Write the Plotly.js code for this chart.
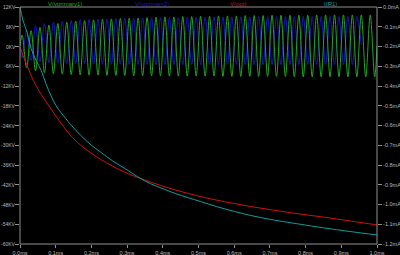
<!DOCTYPE html>
<html><head><meta charset="utf-8">
<script src="https://cdn.plot.ly/plotly-3.0.1.min.js"></script>
<style>html,body{margin:0;padding:0;background:#000;}#c{width:400px;height:255px;}</style>
</head><body><div id="c"></div>
<script>
// time of oscillation extremes (ms)
const tOsc = [0,0.006,0.0185,0.031,0.0435,0.056,0.0685,0.081,0.0935,0.106,0.1185,0.131,0.1435,0.156,0.1685,0.181,0.1935,0.206,0.2185,0.231,0.2435,0.256,0.2685,0.281,0.2935,0.306,0.3185,0.331,0.3435,0.356,0.3685,0.381,0.3935,0.406,0.4185,0.431,0.4435,0.456,0.4685,0.481,0.4935,0.506,0.5185,0.531,0.5435,0.556,0.5685,0.581,0.5935,0.606,0.6185,0.631,0.6435,0.656,0.6685,0.681,0.6935,0.706,0.7185,0.731,0.7435,0.756,0.7685,0.781,0.7935,0.806,0.8185,0.831,0.8435,0.856,0.8685,0.881,0.8935,0.906,0.9185,0.931,0.9435,0.956,0.9685,0.981,0.9935,1.0];
// V(vprimary1) in KV
const vPrim1 = [0,3.5,-6.5,4.8,-7.4,5.8,-7.9,6.5,-8.2,7.0,-8.4,7.4,-8.5,7.7,-8.6,7.9,-8.7,8.1,-8.7,8.3,-8.8,8.4,-8.8,8.5,-8.8,8.6,-8.9,8.7,-8.9,8.8,-8.9,8.9,-8.9,9.0,-9.0,9.0,-9.0,9.1,-9.0,9.1,-9.0,9.2,-9.0,9.2,-9.0,9.3,-9.1,9.3,-9.1,9.3,-9.1,9.4,-9.1,9.4,-9.1,9.4,-9.1,9.5,-9.1,9.5,-9.1,9.5,-9.2,9.5,-9.2,9.5,-9.2,9.6,-9.2,9.6,-9.2,9.6,-9.2,9.6,-9.2,9.6,-9.2,9.6,-9.2,9.6,-9.2,0.2];
// V(vprimary2) in KV
const vPrim2 = [0,-3.5,5.0,-4.2,6.3,-4.6,7.0,-4.9,7.4,-5.1,7.7,-5.2,7.9,-5.3,8.1,-5.3,8.2,-5.4,8.3,-5.4,8.4,-5.4,8.5,-5.4,8.6,-5.5,8.6,-5.5,8.7,-5.5,8.7,-5.5,8.8,-5.5,8.8,-5.5,8.8,-5.5,8.9,-5.5,8.9,-5.5,8.9,-5.5,9.0,-5.5,9.0,-5.5,9.0,-5.5,9.0,-5.5,9.0,-5.5,9.1,-5.5,9.1,-5.5,9.1,-5.5,9.1,-5.5,9.1,-5.5,9.1,-5.5,9.1,-5.5,9.1,-5.5,9.1,-5.5,9.1,-5.5,9.1,-5.5,9.1,0.5];
// V(out) in KV
const tOut = [0,0.008,0.025,0.036,0.059,0.087,0.115,0.14,0.17,0.226,0.296,0.366,0.436,0.506,0.575,0.645,0.715,0.785,0.855,0.925,1.0];
const vOut = [0,-2.6,-7.1,-10.0,-14.5,-19.0,-23.3,-26.8,-30.0,-34.3,-38.3,-41.2,-43.6,-45.6,-47.2,-48.6,-49.8,-50.9,-51.9,-53.0,-54.2];
// I(R1) in mA
const tR1 = [0,0.008,0.02,0.031,0.045,0.059,0.073,0.087,0.101,0.115,0.142,0.170,0.2,0.226,0.26,0.296,0.33,0.366,0.4,0.436,0.47,0.506,0.55,0.6,0.645,0.7,0.75,0.785,0.85,0.925,1.0];
const iR1 = [0,-0.066,-0.13,-0.21,-0.27,-0.32,-0.39,-0.45,-0.50,-0.535,-0.595,-0.65,-0.70,-0.735,-0.78,-0.82,-0.86,-0.895,-0.92,-0.945,-0.965,-0.985,-1.01,-1.035,-1.055,-1.075,-1.09,-1.10,-1.118,-1.137,-1.154];

const xTicks = [0,0.1,0.2,0.3,0.4,0.5,0.6,0.7,0.8,0.9,1.0];
const xLabels = ["0.0ms","0.1ms","0.2ms","0.3ms","0.4ms","0.5ms","0.6ms","0.7ms","0.8ms","0.9ms","1.0ms"];
const yTicks = [12,6,0,-6,-12,-18,-24,-30,-36,-42,-48,-54,-60];
const yLabels = ["12KV","6KV","0KV","-6KV","-12KV","-18KV","-24KV","-30KV","-36KV","-42KV","-48KV","-54KV","-60KV"];
const y2Ticks = [0,-0.1,-0.2,-0.3,-0.4,-0.5,-0.6,-0.7,-0.8,-0.9,-1.0,-1.1,-1.2];
const y2Labels = ["0.0mA","-0.1mA","-0.2mA","-0.3mA","-0.4mA","-0.5mA","-0.6mA","-0.7mA","-0.8mA","-0.9mA","-1.0mA","-1.1mA","-1.2mA"];
const names = ["V(vprimary1)","V(vprimary2)","V(out)","I(R1)"];
const colors = ["#1fa81f","#1818c0","#d01010","#109c9c"];

const tickFont = {family:"Liberation Sans, Arial, sans-serif", size:5.5, color:"#b8b8b8"};
const yFont = {family:"Liberation Sans, Arial, sans-serif", size:5, color:"#b8b8b8"};

const traces = [
  {x:tOsc, y:vPrim2, mode:"lines", line:{color:colors[1], width:1, shape:"spline"}, yaxis:"y"},
  {x:tOsc, y:vPrim1, mode:"lines", line:{color:colors[0], width:1, shape:"spline"}, yaxis:"y"},
  {x:tOut, y:vOut, mode:"lines", line:{color:colors[2], width:1, shape:"spline"}, yaxis:"y"},
  {x:tR1, y:iR1, mode:"lines", line:{color:colors[3], width:1, shape:"spline"}, yaxis:"y2"}
];
const labelX = [0.125,0.37,0.61,0.87];
const legendAnn = names.map((n,i)=>({text:n, xref:"paper", yref:"paper", x:labelX[i], y:1, yshift:3, showarrow:false, xanchor:"center", yanchor:"middle", font:{family:tickFont.family, size:6, color:colors[i]}}));
const yAnn = yTicks.map((v,i)=>({text:yLabels[i], xref:"paper", yref:"y", x:0, y:v, xshift:-3, showarrow:false, xanchor:"right", yanchor:"middle", borderpad:0, font:yFont}));
const layout = {
  width:400, height:255,
  paper_bgcolor:"#000", plot_bgcolor:"#000",
  margin:{l:20, r:23, t:7, b:11},
  showlegend:false,
  xaxis:{range:[0,1], tickvals:xTicks, ticktext:xLabels, ticks:"outside", ticklen:3, tickcolor:"#909090", tickfont:tickFont, showgrid:false, zeroline:false, showline:false},
  yaxis:{range:[-60,12], tickvals:yTicks, showticklabels:false, ticks:"outside", ticklen:4, tickcolor:"#909090", showgrid:false, zeroline:false, showline:false},
  yaxis2:{range:[-1.2,0], overlaying:"y", side:"right", tickvals:y2Ticks, ticktext:y2Labels, ticks:"outside", ticklen:4, tickcolor:"#909090", tickfont:tickFont, showgrid:false, zeroline:false, showline:false},
  shapes:[{type:"rect", xref:"paper", yref:"paper", x0:0, x1:1, y0:0, y1:1, line:{color:"#909090", width:1}, layer:"above"}],
  annotations: legendAnn.concat(yAnn)
};
Plotly.newPlot("c", traces, layout, {staticPlot:true, displayModeBar:false});
</script></body></html>
